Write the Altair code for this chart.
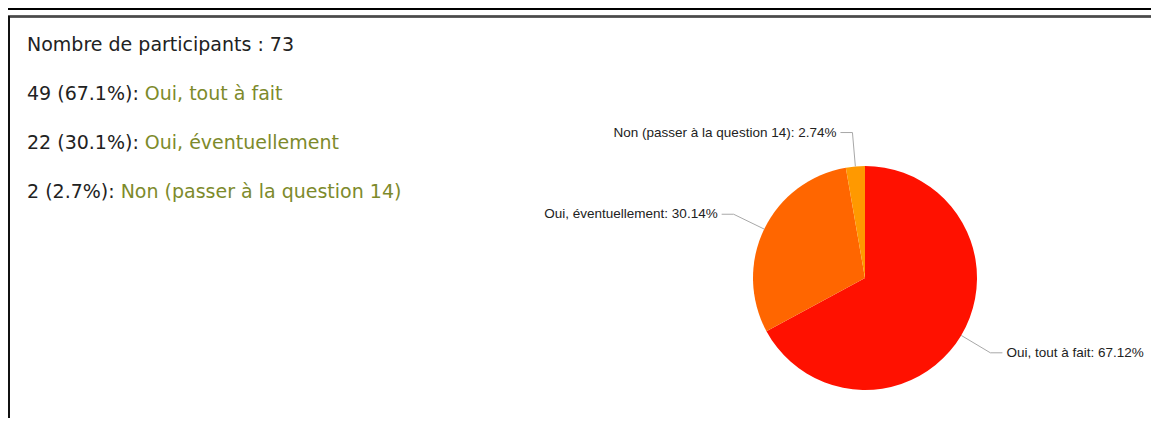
import math
import altair as alt
import pandas as pd

# ---- data ----
categories = ["Oui, tout à fait", "Oui, éventuellement", "Non (passer à la question 14)"]
counts = [49, 22, 2]
slice_colors = ["#FF1100", "#FF6600", "#FF9900"]
title_text = "Nombre de participants"

total = sum(counts)

# ---- layout / style constants ----
W, H = 1143, 410
CX, CY, R = 857, 270, 112
R_ELBOW, ARM, GAP = 146, 12, 4
LEFT_X, LINE0_Y, LINE_STEP = 19, 37, 49
FS = 19
DARK = "#222222"
GREEN = "#7d8a2b"

# DejaVu Sans advance widths (em) for prefix characters
CW = {d: 0.636 for d in "0123456789"}
CW.update({" ": 0.318, "(": 0.390, ")": 0.390, "%": 0.950, ".": 0.318, ":": 0.337})


def text_width(s, size):
    return sum(CW.get(c, 0.6) for c in s) * size


# ---- pie table ----
pie = pd.DataFrame({"cat": categories, "n": counts, "idx": range(len(counts))})
rows = []
cum = 0
for c, n in zip(categories, counts):
    frac = n / total
    a = 2 * math.pi * (cum + frac / 2)
    cum += frac
    s, co = math.sin(a), math.cos(a)
    side = 1 if s >= 0 else -1
    ex, ey = CX + R * s, CY - R * co
    bx, by = CX + R_ELBOW * s, CY - R_ELBOW * co
    rows.append({
        "cat": c, "ex": ex, "ey": ey, "bx": bx, "by": by,
        "tx": bx + side * ARM, "lx": bx + side * (ARM + GAP),
        "label": f"{c}: {100 * n / total:.2f}%",
        "align": "left" if side > 0 else "right",
    })
lab = pd.DataFrame(rows)

# ---- left text ----
left_rows = [{"x": LEFT_X, "y": LINE0_Y, "t": f"{title_text} : {total}", "kind": "dark"}]
for i, (c, n) in enumerate(zip(categories, counts)):
    prefix = f"{n} ({100 * n / total:.1f}%): "
    y = LINE0_Y + LINE_STEP * (i + 1)
    left_rows.append({"x": LEFT_X, "y": y, "t": prefix.rstrip(), "kind": "dark"})
    left_rows.append({"x": LEFT_X + text_width(prefix, FS), "y": y, "t": c, "kind": "green"})
left = pd.DataFrame(left_rows)

color_scale = alt.Scale(domain=categories, range=slice_colors)

arcs = alt.Chart(pie).mark_arc(radius=R, stroke=None).encode(
    theta=alt.Theta("n:Q", stack=True),
    color=alt.Color("cat:N", scale=color_scale, legend=None),
    order=alt.Order("idx:Q"),
    x=alt.value(CX),
    y=alt.value(CY),
)

lead1 = alt.Chart(lab).mark_rule(color="#a8a8a8", strokeWidth=1).encode(
    x=alt.X("ex:Q", scale=None), y=alt.Y("ey:Q", scale=None),
    x2="bx:Q", y2="by:Q",
)
lead2 = alt.Chart(lab).mark_rule(color="#a8a8a8", strokeWidth=1).encode(
    x=alt.X("bx:Q", scale=None), y=alt.Y("by:Q", scale=None),
    x2="tx:Q", y2="by:Q",
)
lab_left = alt.Chart(lab).transform_filter("datum.align == 'left'").mark_text(
    align="left", baseline="middle", font="Liberation Sans", fontSize=13.5, color=DARK
).encode(x=alt.X("lx:Q", scale=None), y=alt.Y("by:Q", scale=None), text="label:N")
lab_right = alt.Chart(lab).transform_filter("datum.align == 'right'").mark_text(
    align="right", baseline="middle", font="Liberation Sans", fontSize=13.5, color=DARK
).encode(x=alt.X("lx:Q", scale=None), y=alt.Y("by:Q", scale=None), text="label:N")

left_dark = alt.Chart(left).transform_filter("datum.kind == 'dark'").mark_text(
    align="left", baseline="middle", font="DejaVu Sans", fontSize=FS, color=DARK
).encode(x=alt.X("x:Q", scale=None), y=alt.Y("y:Q", scale=None), text="t:N")
left_green = alt.Chart(left).transform_filter("datum.kind == 'green'").mark_text(
    align="left", baseline="middle", font="DejaVu Sans", fontSize=FS, color=GREEN
).encode(x=alt.X("x:Q", scale=None), y=alt.Y("y:Q", scale=None), text="t:N")

top_line = alt.Chart(pie).mark_rule(color="#000000", strokeWidth=2).encode(
    x=alt.value(0), x2=alt.value(W), y=alt.value(1)
)
box_top = alt.Chart(pie).mark_rule(color="#4a4a4a", strokeWidth=2).encode(
    x=alt.value(0), x2=alt.value(W), y=alt.value(8.5)
)
box_left = alt.Chart(pie).mark_rule(color="#111111", strokeWidth=2).encode(
    x=alt.value(1), y=alt.value(8), y2=alt.value(H)
)

chart = alt.layer(
    top_line, box_top, box_left, arcs, lead1, lead2, lab_left, lab_right, left_dark, left_green
).properties(
    width=W, height=H, padding=0, autosize=alt.AutoSizeParams(type="none"), background="white"
).configure_view(stroke=None)

chart.save("out.html", embed_options={"renderer": "svg", "actions": False})
